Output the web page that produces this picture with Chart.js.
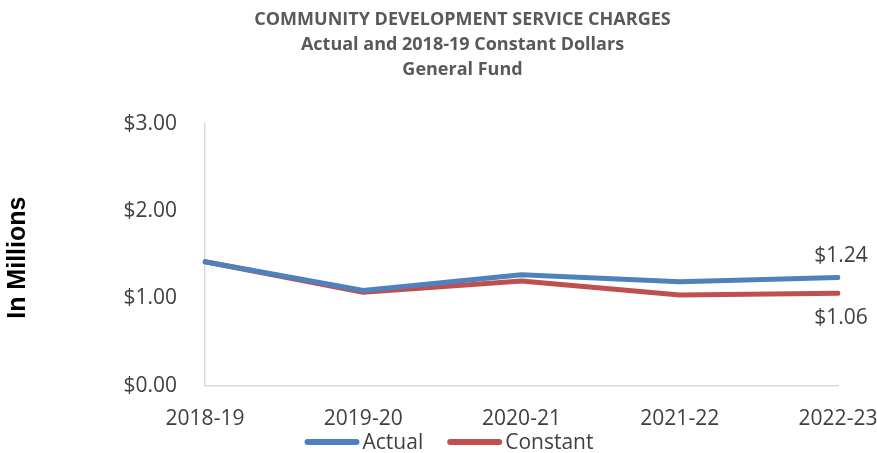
<!DOCTYPE html>
<html>
<head>
<meta charset="utf-8">
<script src="https://cdn.jsdelivr.net/npm/chart.js@4/dist/chart.umd.min.js"></script>
<style>
html,body{margin:0;padding:0;background:#fff;}
#wrap{width:877px;height:453px;position:relative;}
</style>
</head>
<body>
<div id="wrap"><canvas id="c" width="877" height="453"></canvas></div>
<script>
const categories = ["2018-19", "2019-20", "2020-21", "2021-22", "2022-23"];
const actualValues = [1.42, 1.09, 1.27, 1.19, 1.24];
const constantValues = [1.42, 1.07, 1.20, 1.04, 1.06];
const yTicks = [0, 1, 2, 3];
const titleLines = ["COMMUNITY DEVELOPMENT SERVICE CHARGES", "Actual and 2018-19 Constant Dollars", "General Fund"];
const yAxisTitle = "In Millions";

const TEXT_FONT = '"Open Sans", Lato, sans-serif';

const endLabels = {
  id: 'endLabels',
  afterDatasetsDraw(chart) {
    const ctx = chart.ctx;
    ctx.save();
    ctx.font = '21px ' + TEXT_FONT;
    ctx.fillStyle = '#404040';
    ctx.textAlign = 'center';
    ctx.textBaseline = 'middle';
    chart.data.datasets.forEach((ds, i) => {
      const meta = chart.getDatasetMeta(i);
      const last = meta.data[meta.data.length - 1];
      const v = ds.data[ds.data.length - 1];
      const off = i === 0 ? -21 : 25;
      ctx.fillText('$' + v.toFixed(2), last.x + 3, last.y + off);
    });
    ctx.restore();
  }
};

const yTitle = {
  id: 'yTitle',
  afterDraw(chart) {
    const ctx = chart.ctx;
    const a = chart.chartArea;
    ctx.save();
    ctx.translate(18, (a.top + a.bottom) / 2 + 3);
    ctx.rotate(-Math.PI / 2);
    ctx.font = 'bold 25px "Liberation Sans Narrow", "Liberation Sans", Arial, sans-serif';
    ctx.fillStyle = '#000';
    ctx.textAlign = 'center';
    ctx.textBaseline = 'middle';
    ctx.fillText(yAxisTitle, 0, 0);
    ctx.restore();
  }
};

const customLegend = {
  id: 'customLegend',
  afterDraw(chart) {
    const ctx = chart.ctx;
    ctx.save();
    ctx.font = '21px ' + TEXT_FONT;
    ctx.textBaseline = 'middle';
    ctx.textAlign = 'left';
    const y = 442, lineW = 55, gapText = 3, gapItem = 24;
    const items = chart.data.datasets.map(ds => ({ label: ds.label, color: ds.borderColor, w: ctx.measureText(ds.label).width }));
    let total = 0;
    items.forEach((it, i) => { total += lineW + gapText + it.w + (i ? gapItem : 0); });
    let x = 449 - total / 2;
    items.forEach((it, i) => {
      if (i) x += gapItem;
      ctx.strokeStyle = it.color;
      ctx.lineWidth = 6;
      ctx.lineCap = 'round';
      ctx.beginPath();
      ctx.moveTo(x + 3, y);
      ctx.lineTo(x + lineW - 3, y);
      ctx.stroke();
      x += lineW + gapText;
      ctx.fillStyle = '#404040';
      ctx.fillText(it.label, x, y + 1);
      x += it.w;
    });
    ctx.restore();
  }
};

new Chart(document.getElementById('c'), {
  type: 'line',
  data: {
    labels: categories,
    datasets: [
      { label: 'Actual', data: actualValues, borderColor: '#4f81bd', backgroundColor: '#4f81bd', borderWidth: 5, pointRadius: 0, borderCapStyle: 'round', borderJoinStyle: 'round', tension: 0 },
      { label: 'Constant', data: constantValues, borderColor: '#c0504d', backgroundColor: '#c0504d', borderWidth: 5, pointRadius: 0, borderCapStyle: 'round', borderJoinStyle: 'round', tension: 0 }
    ]
  },
  options: {
    responsive: false,
    animation: false,
    layout: { padding: { left: 48, right: 0, top: 7, bottom: 0 } },
    plugins: {
      title: {
        display: true,
        text: titleLines,
        color: '#595959',
        font: { family: TEXT_FONT, size: 18, weight: 'bold', lineHeight: 1.4 },
        padding: { top: 0, bottom: 41 }
      },
      legend: { display: false },
      tooltip: { enabled: false }
    },
    scales: {
      x: {
        offset: false,
        afterFit(scale) { scale.paddingLeft = 0; scale.paddingRight = 39; },
        grid: { display: false, drawTicks: false },
        border: { display: true, color: '#d9d9d9', width: 1.5 },
        ticks: { color: '#404040', font: { family: TEXT_FONT, size: 21 }, padding: 21, maxRotation: 0, autoSkip: false }
      },
      y: {
        min: 0, max: 3,
        afterFit(scale) { scale.width = 157; },
        afterBuildTicks(scale) { scale.ticks = yTicks.map(v => ({ value: v })); },
        grid: { display: false, drawTicks: false },
        border: { display: true, color: '#d9d9d9', width: 1.5 },
        ticks: { color: '#404040', font: { family: TEXT_FONT, size: 21 }, padding: 28, callback: v => '$' + Number(v).toFixed(2) }
      }
    }
  },
  plugins: [endLabels, yTitle, customLegend]
});
</script>
</body>
</html>
